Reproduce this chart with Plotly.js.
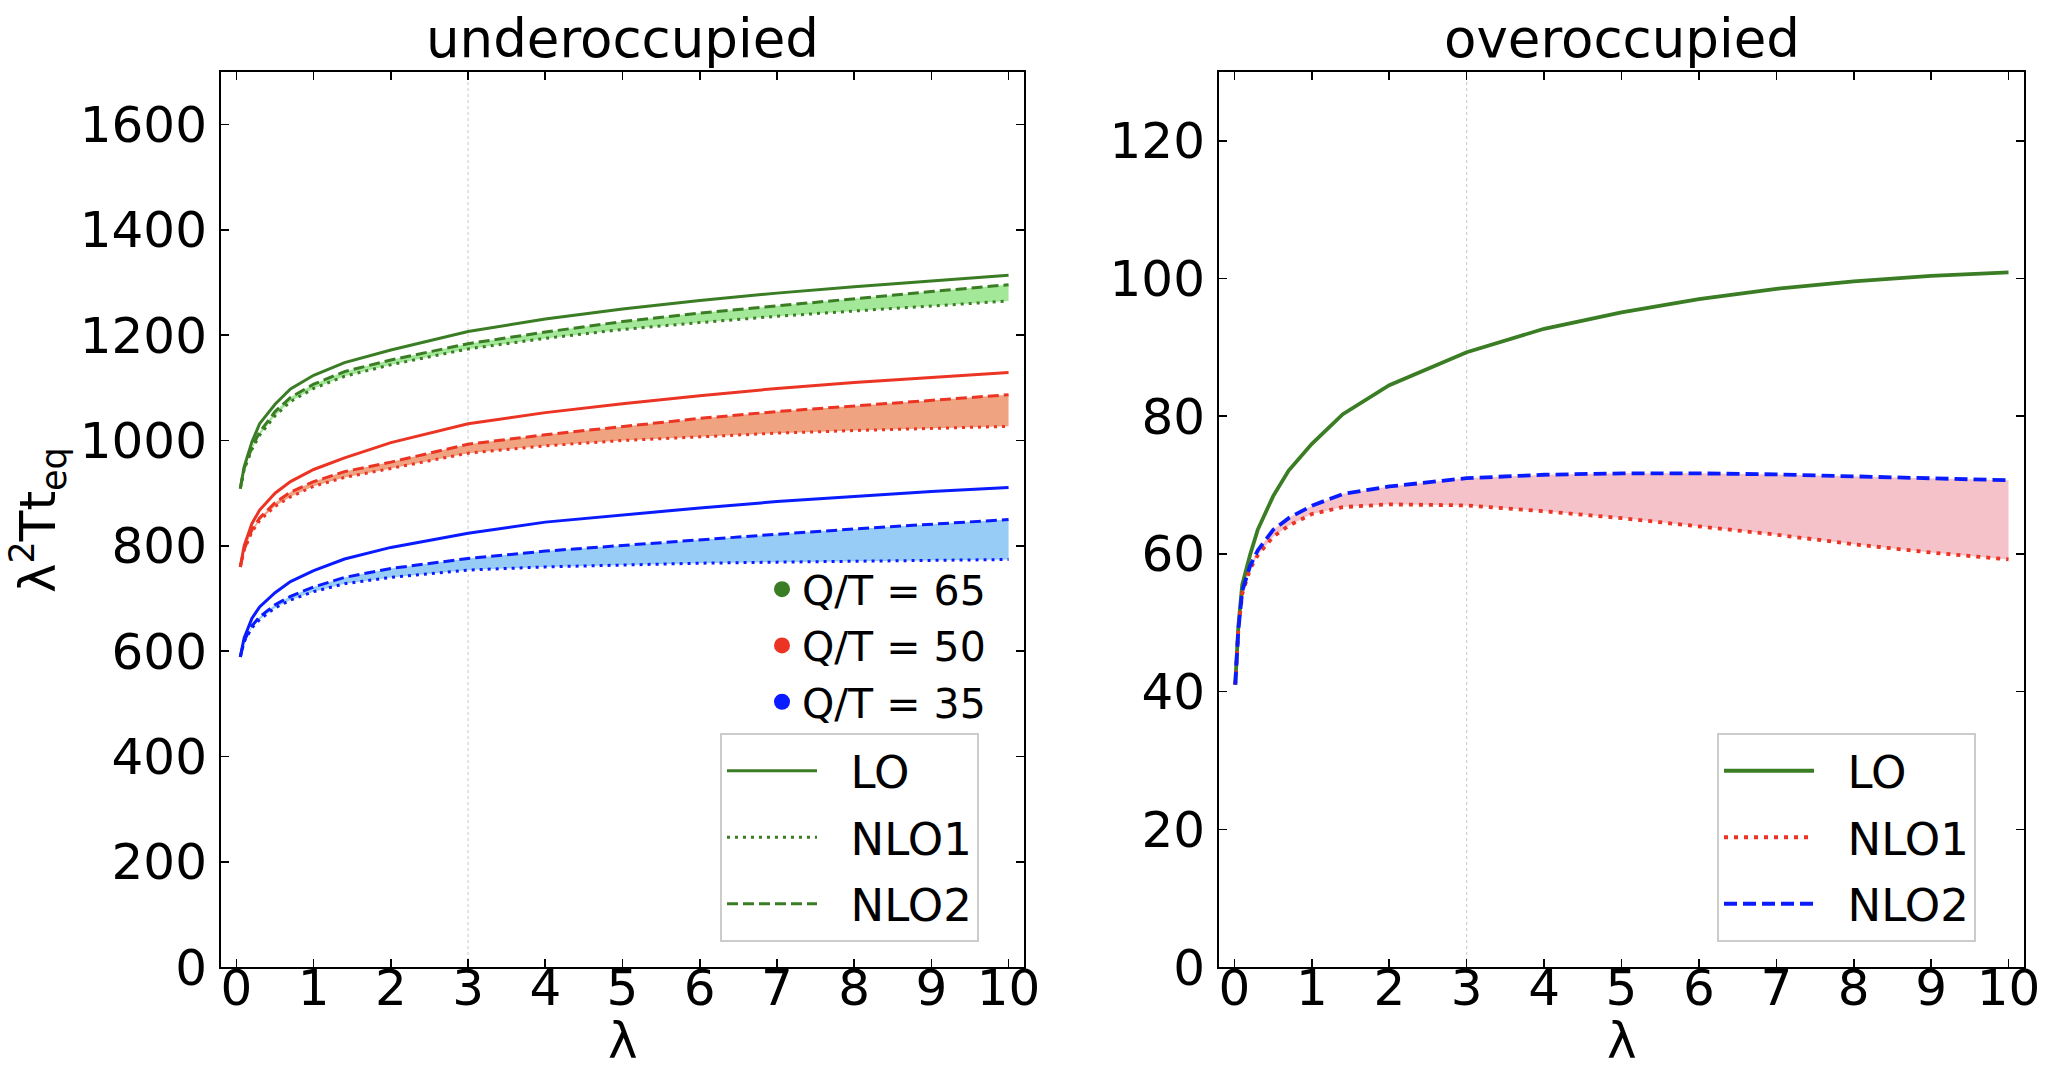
<!DOCTYPE html>
<html>
<head>
<meta charset="utf-8">
<script src="https://cdn.plot.ly/plotly-3.0.1.min.js"></script>
<style>html,body{margin:0;padding:0;background:#fff;}</style>
</head>
<body>
<div id="chart" style="width:2072px;height:1072px;"></div>
<script>
// ---------- data ----------
const lamUnder = [0.05, 0.1, 0.2, 0.3, 0.5, 0.7, 1, 1.4, 2, 3, 4, 5, 6, 7, 8, 9, 10];
// Q/T = 65
const g65LO   = [909, 950, 997, 1032, 1069, 1098, 1124, 1148, 1172, 1207, 1231, 1250, 1266, 1280, 1292, 1303, 1314];
const g65NLO1 = [909, 945, 983, 1010, 1047, 1074, 1099, 1122, 1144, 1174, 1194, 1211, 1224, 1236, 1246, 1256, 1265];
const g65NLO2 = [909, 947, 987, 1016, 1055, 1082, 1107, 1131, 1153, 1184, 1206, 1226, 1242, 1256, 1270, 1283, 1296];
// Q/T = 50
const r50LO   = [760, 800, 842, 868, 900, 922, 945, 967, 996, 1032, 1053, 1070, 1085, 1099, 1110, 1120, 1129];
const r50NLO1 = [760, 792, 826, 848, 875, 893, 913, 930, 947, 976, 990, 1000, 1007, 1014, 1019, 1023, 1027];
const r50NLO2 = [760, 793, 830, 853, 882, 902, 922, 941, 959, 993, 1011, 1027, 1042, 1055, 1066, 1077, 1087];
// Q/T = 35
const b35LO   = [589, 625, 662, 684, 711, 732, 753, 775, 797, 824, 845, 859, 872, 884, 894, 903, 911];
const b35NLO1 = [589, 618, 644, 660, 682, 697, 713, 728, 740, 754, 760, 764, 767, 769, 771, 773, 774];
const b35NLO2 = [589, 620, 648, 665, 688, 704, 722, 740, 757, 776, 790, 801, 812, 822, 832, 841, 850];

const lamOver = [0.01, 0.05, 0.1, 0.2, 0.3, 0.5, 0.7, 1, 1.4, 2, 3, 4, 5, 6, 7, 8, 9, 10];
const oLO   = [41, 49.5, 55.5, 59.8, 63.5, 68.4, 72.1, 76.0, 80.3, 84.5, 89.3, 92.7, 95.1, 97.0, 98.5, 99.6, 100.4, 100.9];
const oNLO1 = [41, 49, 54.2, 57.8, 59.8, 62.5, 64.1, 65.8, 66.8, 67.2, 67.05, 66.2, 65.2, 64.0, 62.8, 61.4, 60.2, 59.2];
const oNLO2 = [41, 49, 54.6, 58.2, 60.5, 63.5, 65.2, 67.0, 68.7, 69.8, 71.0, 71.5, 71.7, 71.7, 71.55, 71.3, 71.0, 70.7];

const xTicks = [0, 1, 2, 3, 4, 5, 6, 7, 8, 9, 10];
const yTicksUnder = [0, 200, 400, 600, 800, 1000, 1200, 1400, 1600];
const yTicksOver = [0, 20, 40, 60, 80, 100, 120];
const qtLabels = ['Q/T = 65', 'Q/T = 50', 'Q/T = 35'];
const orderLabels = ['LO', 'NLO1', 'NLO2'];

// ---------- styles ----------
const GREEN = '#3a7d24', RED = '#ec3424', BLUE = '#0a1cff';
const FONT = 'DejaVu Sans';
const dotL = '3px,5px', dashL = '11px,5px';
const dotR = '4px,6px', dashR = '13px,6px';
const GAP = '\u00a0\u00a0';

const traces = [];
function fillPair(x, lo, hi, color, xa, ya) {
  traces.push({x: x, y: lo, xaxis: xa, yaxis: ya, mode: 'lines', line: {width: 0}, showlegend: false, hoverinfo: 'skip'});
  traces.push({x: x, y: hi, xaxis: xa, yaxis: ya, mode: 'lines', line: {width: 0}, fill: 'tonexty', fillcolor: color, showlegend: false, hoverinfo: 'skip'});
}
fillPair(lamUnder, g65NLO1, g65NLO2, 'rgb(162,232,152)', 'x', 'y');
fillPair(lamUnder, r50NLO1, r50NLO2, 'rgb(240,163,128)', 'x', 'y');
fillPair(lamUnder, b35NLO1, b35NLO2, 'rgb(150,204,245)', 'x', 'y');
fillPair(lamOver, oNLO1, oNLO2, 'rgb(246,194,201)', 'x2', 'y2');

function line(x, y, color, dash, w, xa, ya, name, legend) {
  const t = {x: x, y: y, xaxis: xa, yaxis: ya, mode: 'lines', line: {color: color, width: w, dash: dash}, name: name, showlegend: !!legend};
  if (legend) { t.legend = legend; t.legendgroup = legend + name; }
  traces.push(t);
}
const wl = 3.0;
line(lamUnder, g65LO, GREEN, 'solid', wl, 'x', 'y', GAP + orderLabels[0], 'legend');
line(lamUnder, g65NLO1, GREEN, dotL, wl, 'x', 'y', GAP + orderLabels[1], 'legend');
line(lamUnder, g65NLO2, GREEN, dashL, wl, 'x', 'y', GAP + orderLabels[2], 'legend');
line(lamUnder, r50LO, RED, 'solid', wl, 'x', 'y', 'LO 50');
line(lamUnder, r50NLO1, RED, dotL, wl, 'x', 'y', 'NLO1 50');
line(lamUnder, r50NLO2, RED, dashL, wl, 'x', 'y', 'NLO2 50');
line(lamUnder, b35LO, BLUE, 'solid', wl, 'x', 'y', 'LO 35');
line(lamUnder, b35NLO1, BLUE, dotL, wl, 'x', 'y', 'NLO1 35');
line(lamUnder, b35NLO2, BLUE, dashL, wl, 'x', 'y', 'NLO2 35');

const wr = 3.8;
line(lamOver, oLO, GREEN, 'solid', wr, 'x2', 'y2', GAP + orderLabels[0], 'legend3');
line(lamOver, oNLO1, RED, dotR, wr, 'x2', 'y2', GAP + orderLabels[1], 'legend3');
line(lamOver, oNLO2, BLUE, dashR, wr, 'x2', 'y2', GAP + orderLabels[2], 'legend3');

// Q/T marker legend entries
[GREEN, RED, BLUE].forEach(function (c, i) {
  traces.push({x: [null], y: [null], xaxis: 'x', yaxis: 'y', mode: 'markers', marker: {color: c, size: 17}, name: qtLabels[i], legend: 'legend2', showlegend: true});
});

const W = 2072, H = 1072;
const px = v => v / W;
const py = v => 1 - v / H;

function axisBase(extra) {
  return Object.assign({
    showline: true, linecolor: '#000', linewidth: 2, mirror: 'ticks',
    ticks: 'inside', ticklen: 8, tickwidth: 1.6, tickcolor: '#000',
    showgrid: false, zeroline: false,
    tickfont: {family: FONT, size: 50, color: '#000'}
  }, extra);
}

const layout = {
  width: W, height: H,
  margin: {l: 0, r: 0, t: 0, b: 0},
  paper_bgcolor: '#fff', plot_bgcolor: '#fff',
  font: {family: FONT, color: '#000'},
  xaxis: axisBase({domain: [px(221), px(1024)], range: [-0.2, 10.2], tickvals: xTicks, anchor: 'y', ticklabelstandoff: -24}),
  yaxis: axisBase({domain: [py(967), py(72)], range: [0, 1700], tickvals: yTicksUnder, anchor: 'x', ticklabelstandoff: 2}),
  xaxis2: axisBase({domain: [px(1219), px(2024)], range: [-0.2, 10.2], tickvals: xTicks, anchor: 'y2', ticklabelstandoff: -24}),
  yaxis2: axisBase({domain: [py(967), py(72)], range: [0, 130], tickvals: yTicksOver, anchor: 'x2', ticklabelstandoff: 2}),
  shapes: [
    {type: 'line', xref: 'x', yref: 'y domain', x0: 3, x1: 3, y0: 0, y1: 1, line: {color: '#c8c8c8', width: 1, dash: 'dot'}, layer: 'below'},
    {type: 'line', xref: 'x2', yref: 'y2 domain', x0: 3, x1: 3, y0: 0, y1: 1, line: {color: '#c8c8c8', width: 1, dash: 'dot'}, layer: 'below'}
  ],
  showlegend: true,
  legend: {x: px(720), y: py(733), xanchor: 'left', yanchor: 'top', bgcolor: 'rgba(255,255,255,0.85)', bordercolor: '#cccccc', borderwidth: 2,
           font: {family: FONT, size: 45, color: '#000'}, itemwidth: 90, tracegroupgap: 5, valign: 'middle'},
  legend2: {x: px(762), y: py(556), xanchor: 'left', yanchor: 'top', bgcolor: 'rgba(0,0,0,0)', borderwidth: 0,
            font: {family: FONT, size: 41, color: '#000'}, itemwidth: 30, tracegroupgap: 0, valign: 'middle'},
  legend3: {x: px(1717), y: py(733), xanchor: 'left', yanchor: 'top', bgcolor: 'rgba(255,255,255,0.85)', bordercolor: '#cccccc', borderwidth: 2,
            font: {family: FONT, size: 45, color: '#000'}, itemwidth: 90, tracegroupgap: 5, valign: 'middle'},
  annotations: [
    {text: 'underoccupied', xref: 'paper', yref: 'paper', x: px(622.5), y: py(39), xanchor: 'center', yanchor: 'middle', showarrow: false, font: {family: FONT, size: 53, color: '#000'}},
    {text: 'overoccupied', xref: 'paper', yref: 'paper', x: px(1621.5), y: py(39), xanchor: 'center', yanchor: 'middle', showarrow: false, font: {family: FONT, size: 53, color: '#000'}},
    {text: 'λ', xref: 'paper', yref: 'paper', x: px(622.5), y: 0, xanchor: 'center', yanchor: 'bottom', showarrow: false, font: {family: FONT, size: 50, color: '#000'}},
    {text: 'λ', xref: 'paper', yref: 'paper', x: px(1621.5), y: 0, xanchor: 'center', yanchor: 'bottom', showarrow: false, font: {family: FONT, size: 50, color: '#000'}},
    {text: 'λ<sup>2</sup>Tt<sub>eq</sub>', xref: 'paper', yref: 'paper', x: px(38), y: py(520), xanchor: 'center', yanchor: 'middle', textangle: -90, showarrow: false, font: {family: FONT, size: 50, color: '#000'}}
  ]
};

Plotly.newPlot('chart', traces, layout, {staticPlot: true, displayModeBar: false});
</script>
</body>
</html>
